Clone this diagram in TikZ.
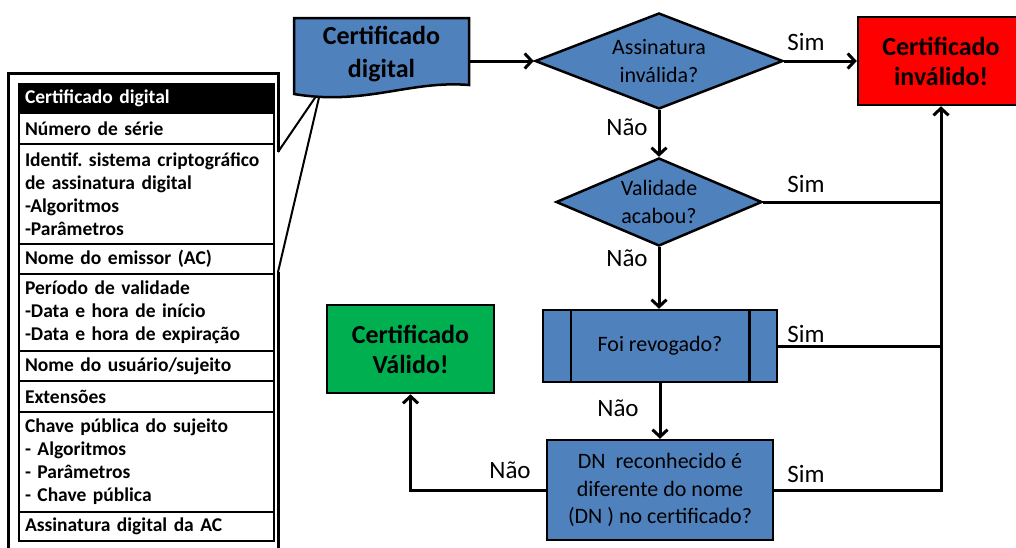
\documentclass[tikz,border=0pt]{standalone}
\usepackage{fontspec}
\setmainfont{Carlito}
\usetikzlibrary{shapes.geometric,arrows.meta}
\definecolor{boxblue}{HTML}{4F81BD}
\definecolor{okgreen}{HTML}{00B050}
\definecolor{badred}{HTML}{FF0000}
\frenchspacing
\begin{document}
\begin{tikzpicture}[x=1pt,y=-1pt,
  conn/.style={line width=3pt, draw=black},
  arr/.style={conn, -{Straight Barb[length=7pt,width=15pt]}},
  flow/.style={draw=black, line width=2.5pt, fill=boxblue, font=\fontsize{22}{27.5}\selectfont, align=center, inner sep=0pt},
  dec/.style={draw=black, line width=2.5pt, fill=boxblue, shape=diamond, inner sep=0pt},
  dectext/.style={font=\fontsize{22}{27.5}\selectfont, align=center, inner sep=0pt},
  term/.style={draw=black, line width=2.5pt, font=\bfseries\fontsize{26}{30}\selectfont, align=center, inner sep=0pt},
  lbl/.style={font=\fontsize{25}{28}\selectfont, inner sep=0pt},
  cell/.style={draw=black, line width=2pt, anchor=north west, text width=243pt, inner xsep=6pt, inner ysep=0pt, align=left, font=\bfseries\fontsize{19.5}{23}\selectfont}
]
\useasboundingbox (0,0) rectangle (1016,547);

% callout frame around the table
\coordinate (tip) at (321,89);
\draw[line width=3pt] (8,600) -- (8,73) -- (278,73) -- (278,152);
\draw[line width=2pt] (278,152) -- (tip) -- (278,272);
\draw[line width=3pt] (278,272) -- (278,600);

% table
\node[cell, fill=black, text=white, minimum height=29pt] (c0) at (18,83) {Certificado digital};
\node[cell, minimum height=31pt] (c1) at (18,112) {Número de série};
\node[cell, minimum height=100pt] (c2) at (18,143) {Identif. sistema criptográfico\\de assinatura digital\\-Algoritmos\\-Parâmetros};
\node[cell, minimum height=30pt] (c3) at (18,243) {Nome do emissor (AC)};
\node[cell, minimum height=77pt] (c4) at (18,273) {Período de validade\\-Data e hora de início\\-Data e hora de expiração};
\node[cell, minimum height=30pt] (c5) at (18,350) {Nome do usuário/sujeito};
\node[cell, minimum height=31pt] (c6) at (18,380) {Extensões};
\node[cell, minimum height=100pt] (c7) at (18,411) {Chave pública do sujeito\\- Algoritmos\\- Parâmetros\\- Chave pública};
\node[cell, minimum height=29pt] (c8) at (18,511) {Assinatura digital da AC};

% document shape
\filldraw[fill=boxblue, draw=black, line width=2.5pt, line join=miter]
  (294,18) -- (469,18) -- (469,85) .. controls (410,80) and (365,106) .. (294,94) -- cycle;
\node[font=\bfseries\fontsize{26}{33}\selectfont, align=center, inner sep=0pt, minimum width=175pt, minimum height=76pt] (doc) at (381.5,54) {Certificado\\digital};

% flow nodes
\node[dec, minimum width=248pt, minimum height=96pt] (d1) at (659,61) {};
\node[dectext] (d1t) at (d1.center) {Assinatura\\inválida?};
\node[term, fill=badred, minimum width=166pt, minimum height=88pt] (red) at (941,61) {Certificado\\inválido!};
\node[dec, minimum width=206pt, minimum height=88pt] (d2) at (659,202) {};
\node[dectext] (d2t) at (d2.center) {Validade\\acabou?};
\node[flow, minimum width=234pt, minimum height=72pt] (foi) at (660,346) {Foi revogado?};
\draw[line width=2.5pt] ([xshift=29pt]foi.north west) -- ([xshift=29pt]foi.south west);
\draw[line width=2.5pt] ([xshift=-29pt]foi.north east) -- ([xshift=-29pt]foi.south east);
\node[flow, minimum width=226pt, minimum height=100pt] (dn) at (660,490) {DN~~reconhecido é\\diferente do nome\\(DN~) no certificado?};
\node[term, fill=okgreen, minimum width=167pt, minimum height=88pt] (ok) at (410.5,349) {Certificado\\Válido!};

% connectors
\draw[arr] (doc.east |- d1.west) -- (d1.west);
\draw[arr] (d1.east) -- (red.west);
\draw[arr] (d1.south) -- (d2.north);
\draw[arr] (d2.south) -- (d2.south |- foi.north);
\draw[arr] (foi.south) -- (dn.north);
\draw[conn] (d2.east) -- (red.south |- d2.east);
\draw[conn] (foi.east) -- (red.south |- foi.east);
\draw[arr] (dn.east) -- (red.south |- dn.east) -- (red.south);
\draw[arr] (dn.west) -- (ok.south |- dn.west) -- (ok.south);

% labels
\node[lbl] (s1) at (806,41.5) {Sim};
\node[lbl] (s2) at (806,183.5) {Sim};
\node[lbl] (s3) at (806,333.5) {Sim};
\node[lbl] (s4) at (806,473.5) {Sim};
\node[lbl] (n1) at (627,127) {Não};
\node[lbl] (n2) at (627,258) {Não};
\node[lbl] (n3) at (618,408) {Não};
\node[lbl] (n4) at (510,470) {Não};
\end{tikzpicture}
\end{document}
